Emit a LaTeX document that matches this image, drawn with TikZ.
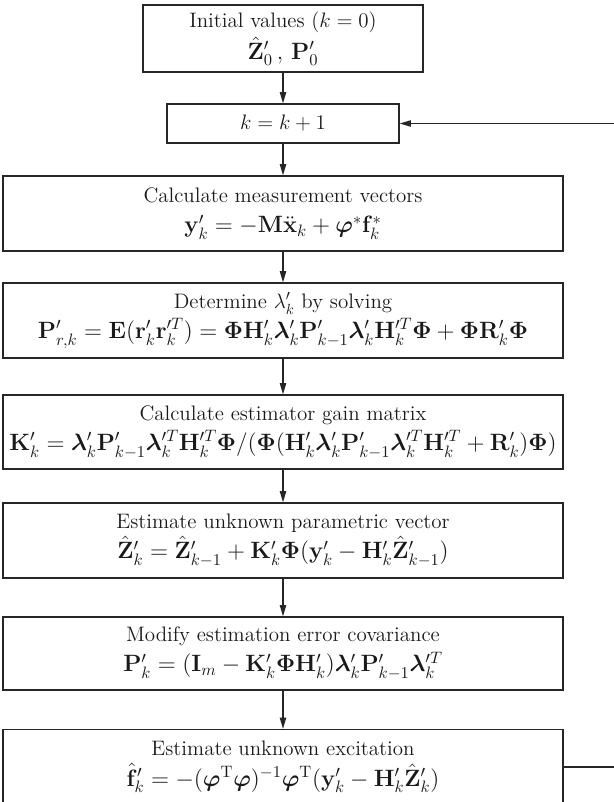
\RequirePackage{fix-cm}
\documentclass[tikz,border=0pt]{standalone}
\usepackage{amsmath,amssymb,bm}
\usetikzlibrary{arrows.meta,positioning}

\tikzset{
  stepbox/.style={draw=black!85, line width=0.9pt, align=center, text=black!90,
    minimum width=14cm, minimum height=1.875cm, inner sep=1pt,
    font=\fontsize{14.9}{19.5}\selectfont},
  flow/.style={draw=black!85, line width=0.9pt, -{Triangle[length=8pt,width=4.5pt]}},
}
\newcommand{\bv}[1]{\mathbf{#1}}
\newcommand{\bg}[1]{\boldsymbol{#1}}
\newcommand{\eqline}[1]{{\fontsize{16.8}{19.5}\selectfont$#1$}}

\begin{document}
\begin{tikzpicture}[x=0.025cm,y=-0.025cm]
  \useasboundingbox (0,0) rectangle (613,802);
  % start and counter
  \node[stepbox,minimum width=7cm,minimum height=1.675cm] (init) at (283,38.5)
    {Initial values ($k = 0$)\\[2pt] \eqline{\hat{\bv{Z}}'_0\,,\,\bv{P}'_0}};
  \node[stepbox,minimum width=5.8cm,minimum height=0.975cm] (next) at (283,123.5)
    {$k = k + 1$};
  % filter steps
  \node[stepbox] (meas) at (283,213.5)
    {Calculate measurement vectors\\[2pt]
     \eqline{\bv{y}'_k = -\bv{M}\ddot{\bv{x}}_k + \bg{\varphi}^{*}\bv{f}^{*}_k}};
  \node[stepbox] (lam) at (283,320.5)
    {Determine $\lambda'_k$ by solving\\[2pt]
     \eqline{\bv{P}'_{r,k} = \bv{E}(\bv{r}'_k\bv{r}'^{T}_k) = \bg{\Phi}\bv{H}'_k\bg{\lambda}'_k\bv{P}'_{k-1}\bg{\lambda}'_k\bv{H}'^{T}_k\bg{\Phi} + \bg{\Phi}\bv{R}'_k\bg{\Phi}}};
  \node[stepbox,minimum height=1.85cm] (gain) at (283,432)
    {Calculate estimator gain matrix\\[2pt]
     \eqline{\bv{K}'_k = \bg{\lambda}'_k\bv{P}'_{k-1}\bg{\lambda}'^{T}_k\bv{H}'^{T}_k\bg{\Phi}/(\bg{\Phi}(\bv{H}'_k\bg{\lambda}'_k\bv{P}'_{k-1}\bg{\lambda}'^{T}_k\bv{H}'^{T}_k + \bv{R}'_k)\bg{\Phi})}};
  \node[stepbox] (param) at (283,540.5)
    {Estimate unknown parametric vector\\[2pt]
     \eqline{\hat{\bv{Z}}'_k = \hat{\bv{Z}}'_{k-1} + \bv{K}'_k\bg{\Phi}(\bv{y}'_k - \bv{H}'_k\hat{\bv{Z}}'_{k-1})}};
  \node[stepbox,minimum height=1.825cm] (cov) at (283,653.5)
    {Modify estimation error covariance\\[2pt]
     \eqline{\bv{P}'_k = (\bv{I}_m - \bv{K}'_k\bg{\Phi}\bv{H}'_k)\bg{\lambda}'_k\bv{P}'_{k-1}\bg{\lambda}'^{T}_k}};
  \node[stepbox] (exc) at (283,767)
    {Estimate unknown excitation\\[2pt]
     \eqline{\hat{\bv{f}}'_k = -(\bg{\varphi}^{\mathrm{T}}\bg{\varphi})^{-1}\bg{\varphi}^{\mathrm{T}}(\bv{y}'_k - \bv{H}'_k\hat{\bv{Z}}'_k)}};
  % connectors
  \draw[flow] (init) -- (next);
  \draw[flow] (next) -- (meas);
  \draw[flow] (meas) -- (lam);
  \draw[flow] (lam) -- (gain);
  \draw[flow] (gain) -- (param);
  \draw[flow] (param) -- (cov);
  \draw[flow] (cov) -- (exc);
  \draw[flow] (exc.east) -- ++(70,0) |- (next.east); % loop back to the counter
\end{tikzpicture}
\end{document}
